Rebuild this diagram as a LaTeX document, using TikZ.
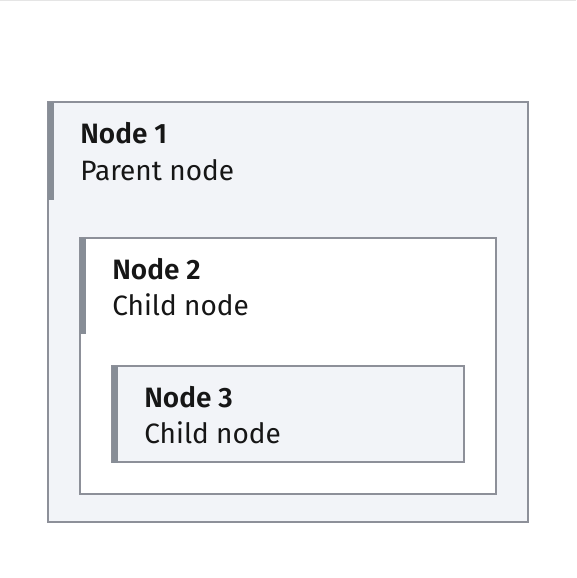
\documentclass[tikz,border=0pt]{standalone}
\usepackage{fontspec}
\setmainfont{Fira Sans}[BoldFont={Fira Sans SemiBold}]
\usepackage{tikz}
\usetikzlibrary{positioning}
\definecolor{boxfill}{HTML}{F2F4F8}
\definecolor{boxline}{HTML}{8D9099}
\definecolor{barcol}{HTML}{878D96}
\definecolor{txtcol}{HTML}{161616}
\tikzset{
    boxframe/.style={draw=boxline,line width=1.1pt},
    barfill/.style={fill=barcol},
    title/.style={anchor=base west,inner sep=0pt,text=txtcol,font=\fontsize{21}{25}\selectfont\bfseries},
    subtitle/.style={anchor=base west,inner sep=0pt,text=txtcol,font=\fontsize{21}{25}\selectfont}
}

\begin{document}
\begin{tikzpicture}[x=0.75pt,y=-0.75pt]
                \useasboundingbox (0,0) rectangle (576,578);
                \fill[white] (0,0) rectangle (576,578);
                \draw[gray!20,line width=0.75pt] (0,0.5)--(576,0.5);
                % outer box
                \draw[boxframe,fill=boxfill] (48,102) rectangle (528,522);
                \fill[barfill] (47.5,101.5) rectangle (54,200);
                \node[title] (n1) at (80,143) {Node 1};
                \node[subtitle] (p1) at (80,180) {Parent node};
                % middle box
                \draw[boxframe,fill=white] (80,238) rectangle (496,494);
                \fill[barfill] (79.5,237.5) rectangle (86,334);
                \node[title] (n2) at (112,279) {Node 2};
                \node[subtitle] (c2) at (112,315) {Child node};
                % inner box
                \draw[boxframe,fill=boxfill] (112,366) rectangle (464,462);
                \fill[barfill] (111.5,365.5) rectangle (118,462.5);
                \node[title] (n3) at (144,407) {Node 3};
                \node[subtitle] (c3) at (144,443) {Child node};
\end{tikzpicture}
\end{document}
